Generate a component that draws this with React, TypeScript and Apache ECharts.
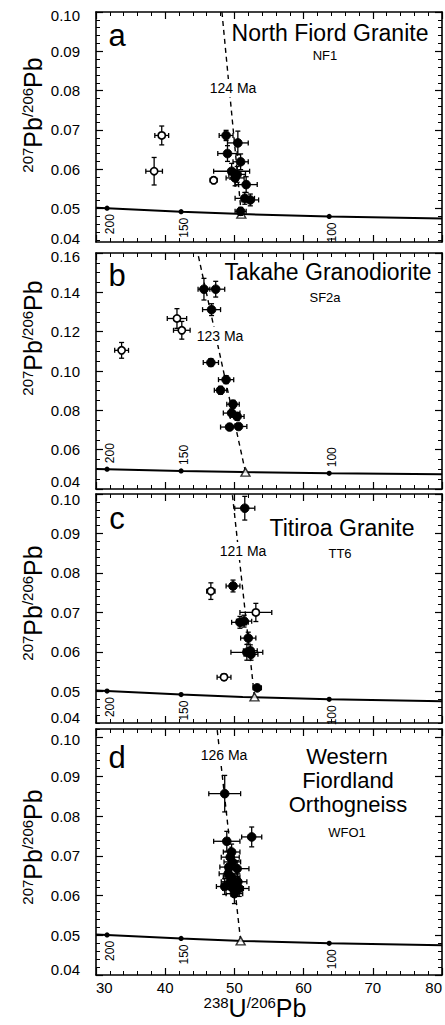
import React, { useEffect, useRef } from 'react';
import * as echarts from 'echarts';

// ---------- data ----------
// Concordia curve (238U/206Pb, 207Pb/206Pb)
const concordiaX = [30, 31.6, 42.3, 51.2, 63.7, 80];
const concordiaY = [0.0502, 0.0501, 0.0492, 0.0486, 0.048, 0.0475];
// Age marks on concordia (Ma)
const ageMarkX = [31.6, 42.3, 63.7];
const ageMarkY = [0.0501, 0.0492, 0.048];
const ageMarkLabels = ['200', '150', '100'];

// [x, y, xErr, yErr]
const nf1Filled = [
  [48.8, 0.0686, 1.0, 0.0013],
  [50.5, 0.0667, 1.5, 0.003],
  [49.0, 0.064, 1.4, 0.002],
  [50.9, 0.0619, 1.1, 0.002],
  [49.6, 0.0595, 2.6, 0.002],
  [50.4, 0.0587, 1.2, 0.002],
  [50.1, 0.0578, 1.3, 0.002],
  [51.7, 0.0561, 1.6, 0.002],
  [51.5, 0.0526, 1.4, 0.0015],
  [52.3, 0.0522, 1.2, 0.0015],
  [50.9, 0.0493, 0.8, 0.001],
];
const nf1Open = [
  [39.5, 0.0686, 1.0, 0.0024],
  [38.4, 0.0595, 1.2, 0.0035],
  [47.0, 0.0572, 0.5, 0.0008],
];
const nf1Discordia = [[51.0, 0.0486], [48.2, 0.1]];

const sf2aFilled = [
  [45.6, 0.1416, 0.85, 0.0055],
  [47.3, 0.1416, 1.3, 0.004],
  [46.7, 0.1312, 1.3, 0.003],
  [46.6, 0.1043, 1.1, 0.002],
  [48.8, 0.0956, 1.1, 0.002],
  [48.0, 0.0902, 0.9, 0.002],
  [49.8, 0.0831, 0.9, 0.002],
  [49.6, 0.0786, 1.2, 0.002],
  [50.4, 0.0769, 1.0, 0.002],
  [49.3, 0.0715, 1.3, 0.0015],
  [50.6, 0.0718, 1.2, 0.0015],
];
const sf2aOpen = [
  [33.7, 0.1105, 1.0, 0.004],
  [41.7, 0.1267, 1.4, 0.005],
  [42.4, 0.1207, 1.2, 0.0045],
];
const sf2aDiscordia = [[51.6, 0.0486], [44.7, 0.16]];

const tt6Filled = [
  [51.5, 0.0964, 1.45, 0.003],
  [49.8, 0.0767, 1.0, 0.0015],
  [50.8, 0.0675, 1.2, 0.0015],
  [51.4, 0.0678, 1.1, 0.0015],
  [52.0, 0.0635, 1.1, 0.0015],
  [51.8, 0.0599, 2.3, 0.002],
  [52.3, 0.0603, 1.0, 0.0015],
  [52.4, 0.0594, 1.0, 0.0015],
  [53.3, 0.0509, 0.6, 0.0006],
];
const tt6Open = [
  [53.1, 0.07, 2.3, 0.0023],
  [46.6, 0.0754, 0.6, 0.0021],
  [48.5, 0.0536, 1.0, 0.0008],
];
const tt6Discordia = [[52.9, 0.0486], [49.7, 0.1]];

const wfo1Filled = [
  [48.6, 0.0857, 2.3, 0.0046],
  [52.5, 0.0748, 1.45, 0.0025],
  [48.9, 0.0737, 1.9, 0.0025],
  [49.6, 0.071, 1.2, 0.002],
  [49.4, 0.0697, 1.3, 0.002],
  [49.7, 0.0685, 1.2, 0.002],
  [49.2, 0.0672, 1.3, 0.002],
  [50.4, 0.0668, 1.7, 0.002],
  [49.1, 0.0655, 1.3, 0.002],
  [49.6, 0.0647, 1.2, 0.002],
  [49.4, 0.0635, 1.3, 0.002],
  [50.5, 0.0635, 1.3, 0.002],
  [48.6, 0.0623, 1.2, 0.002],
  [49.8, 0.0618, 1.5, 0.002],
  [50.7, 0.0618, 1.4, 0.002],
  [50.0, 0.0605, 1.2, 0.0025],
];
const wfo1Open: number[][] = [];
const wfo1Discordia = [[50.9, 0.0486], [47.5, 0.102]];

// axis tick values
const xTickLabels = [30, 40, 50, 60, 70, 80];
const yTicksSmall = [0.04, 0.05, 0.06, 0.07, 0.08, 0.09, 0.1];
const yTicksLarge = [0.04, 0.06, 0.08, 0.1, 0.12, 0.14, 0.16];
// where the end labels sit (the original insets the first/last label)
const nf1LabelPos = [0.0423, 0.05, 0.06, 0.07, 0.08, 0.09, 0.099];
const sf2aLabelPos = [0.0437, 0.06, 0.08, 0.1, 0.12, 0.14, 0.1581];
const tt6LabelPos = [0.0433, 0.05, 0.06, 0.07, 0.08, 0.09, 0.0986];
const wfo1LabelPos = [0.0415, 0.05, 0.06, 0.07, 0.08, 0.09, 0.0994];

// ---------- layout ----------
const FONT = '"Liberation Sans", Arial, Helvetica, sans-serif';
const GRID_LEFT = 96;
const GRID_W = 346;

const panels = [
  { top: 12, height: 230, min: 0.0415, max: 0.1, majors: yTicksSmall, labelPos: nf1LabelPos, minorStep: 0.002, filled: nf1Filled, open: nf1Open, disc: nf1Discordia, ageBelow: true },
  { top: 253, height: 236, min: 0.04, max: 0.16, majors: yTicksLarge, labelPos: sf2aLabelPos, minorStep: 0.005, filled: sf2aFilled, open: sf2aOpen, disc: sf2aDiscordia, ageBelow: false },
  { top: 494, height: 229, min: 0.042, max: 0.1, majors: yTicksSmall, labelPos: tt6LabelPos, minorStep: 0.002, filled: tt6Filled, open: tt6Open, disc: tt6Discordia, ageBelow: true },
  { top: 729, height: 246, min: 0.04, max: 0.102, majors: yTicksSmall, labelPos: wfo1LabelPos, minorStep: 0.002, filled: wfo1Filled, open: wfo1Open, disc: wfo1Discordia, ageBelow: true },
];

function errorRenderer(open: boolean) {
  return (params: any, api: any) => {
    const x = api.value(0), y = api.value(1), ex = api.value(2), ey = api.value(3);
    const c = api.coord([x, y]);
    const l = api.coord([x - ex, y]);
    const r = api.coord([x + ex, y]);
    const t = api.coord([x, y + ey]);
    const b = api.coord([x, y - ey]);
    const cap = 2.5;
    const ls = { stroke: '#000', lineWidth: 1.3 };
    const line = (x1: number, y1: number, x2: number, y2: number) => ({ type: 'line', shape: { x1, y1, x2, y2 }, style: ls });
    return {
      type: 'group',
      children: [
        line(l[0], l[1], r[0], r[1]),
        line(l[0], l[1] - cap, l[0], l[1] + cap),
        line(r[0], r[1] - cap, r[0], r[1] + cap),
        line(t[0], t[1], b[0], b[1]),
        line(t[0] - cap, t[1], t[0] + cap, t[1]),
        line(b[0] - cap, b[1], b[0] + cap, b[1]),
        { type: 'circle', shape: { cx: c[0], cy: c[1], r: open ? 3.6 : 4.3 }, style: { fill: open ? '#fff' : '#000', stroke: '#000', lineWidth: open ? 1.7 : 1 } },
      ],
    };
  };
}

function ageRenderer(below: boolean) {
  return (params: any, api: any) => {
    const c = api.coord([api.value(0), api.value(1)]);
    return {
      type: 'group',
      children: [
        { type: 'circle', shape: { cx: c[0], cy: c[1], r: 2.6 }, style: { fill: '#000' } },
        {
          type: 'text',
          x: c[0] + 3,
          y: below ? c[1] + 6 : c[1] - 6,
          rotation: Math.PI / 2,
          style: {
            text: ageMarkLabels[params.dataIndex],
            font: `12px ${FONT}`,
            fill: '#000',
            align: below ? 'right' : 'left',
            verticalAlign: 'middle',
          },
        },
      ],
    };
  };
}

function minorsOf(min: number, max: number, step: number, majors: number[]) {
  const out: number[] = [];
  const start = Math.ceil(min / step - 1e-6) * step;
  for (let i = 0; i < 200; i++) {
    const v = +(start + i * step).toFixed(4);
    if (v > max + 1e-9) break;
    if (!majors.some((m) => Math.abs(m - v) < 1e-6)) out.push(v);
  }
  return out;
}

function buildOption() {
  const grid: any[] = [];
  const xAxis: any[] = [];
  const yAxis: any[] = [];
  const series: any[] = [];
  const axisLine = { show: true, onZero: false, lineStyle: { color: '#000', width: 1.6 } };

  panels.forEach((p, i) => {
    grid.push({ left: GRID_LEFT, top: p.top, width: GRID_W, height: p.height, containLabel: false });
    ['bottom', 'top'].forEach((pos) => {
      xAxis.push({
        gridIndex: i, type: 'value', min: xTickLabels[0], max: xTickLabels[xTickLabels.length - 1], interval: 10, position: pos,
        axisLine,
        axisTick: { show: true, inside: true, length: 7, lineStyle: { color: '#000', width: 1.2 } },
        minorTick: { show: true, splitNumber: 5, length: 4, lineStyle: { color: '#000', width: 1 } },
        splitLine: { show: false }, minorSplitLine: { show: false },
        axisLabel: {
          show: pos === 'bottom' && i === 3, margin: 5, color: '#000', fontSize: 15, fontFamily: FONT,
          alignMinLabel: 'left', alignMaxLabel: 'right',
        },
      });
    });
    const majorsIn = p.majors.filter((v) => v >= p.min - 1e-9 && v <= p.max + 1e-9);
    const minors = minorsOf(p.min, p.max, p.minorStep, p.majors);
    const nearestMajor = (v: number) => {
      let best = p.majors[0];
      p.majors.forEach((m) => { if (Math.abs(m - v) < Math.abs(best - v)) best = m; });
      return best.toFixed(2);
    };
    ['left', 'right'].forEach((pos) => {
      yAxis.push({
        gridIndex: i, type: 'value', min: p.min, max: p.max, position: pos,
        axisLine,
        axisTick: { show: true, inside: true, length: 7, customValues: majorsIn, lineStyle: { color: '#000', width: 1.2 } },
        splitLine: { show: false },
        axisLabel: {
          show: pos === 'left', customValues: p.labelPos, margin: 16, color: '#000', fontSize: 15, fontFamily: FONT,
          formatter: (v: number) => nearestMajor(v),
        },
      });
      yAxis.push({
        gridIndex: i, type: 'value', min: p.min, max: p.max, position: pos,
        axisLine: { show: false },
        axisTick: { show: true, inside: true, length: 4, customValues: minors, lineStyle: { color: '#000', width: 1 } },
        splitLine: { show: false },
        axisLabel: { show: false },
      });
    });
    const xi = i * 2;
    const yi = i * 4;
    series.push({
      type: 'line', xAxisIndex: xi, yAxisIndex: yi, symbol: 'none', silent: true,
      data: concordiaX.map((x, k) => [x, concordiaY[k]]),
      lineStyle: { color: '#000', width: 2 }, z: 2,
    });
    series.push({
      type: 'line', xAxisIndex: xi, yAxisIndex: yi, symbol: 'none', silent: true,
      data: p.disc, lineStyle: { color: '#000', width: 1.4, type: [5, 4] }, z: 2,
    });
    series.push({
      type: 'custom', xAxisIndex: xi, yAxisIndex: yi, renderItem: ageRenderer(p.ageBelow),
      data: ageMarkX.map((x, k) => [x, ageMarkY[k]]), z: 3, silent: true,
    });
    series.push({
      type: 'scatter', xAxisIndex: xi, yAxisIndex: yi, symbol: 'triangle', symbolSize: [9, 8],
      data: [p.disc[0]], itemStyle: { color: '#fff', borderColor: '#000', borderWidth: 1.4 }, z: 4, silent: true,
    });
    series.push({
      type: 'custom', xAxisIndex: xi, yAxisIndex: yi, renderItem: errorRenderer(true),
      data: p.open, encode: { x: 0, y: 1 }, z: 5, silent: true,
    });
    series.push({
      type: 'custom', xAxisIndex: xi, yAxisIndex: yi, renderItem: errorRenderer(false),
      data: p.filled, encode: { x: 0, y: 1 }, z: 6, silent: true,
    });
  });

  const txt = (text: string, x: number, y: number, size: number, extra: any = {}) => ({
    type: 'text', x, y, z: 100,
    style: { text, font: `${size}px ${FONT}`, fill: '#000', align: 'center', verticalAlign: 'middle', ...extra },
  });
  const ageTxt = (text: string, x: number, y: number) =>
    txt(text, x, y, 14, { backgroundColor: '#fff', padding: [2, 2] });
  const rich = {
    s: { fontSize: 15, fontFamily: FONT, fill: '#000', verticalAlign: 'top', lineHeight: 15 },
    b: { fontSize: 25, fontFamily: FONT, fill: '#000', lineHeight: 26 },
  };
  const yTitle = (y: number) => ({
    type: 'text', x: 33, y, rotation: Math.PI / 2, z: 100,
    style: { text: '{s|207}{b|Pb}{s|/206}{b|Pb}', rich, align: 'center', verticalAlign: 'middle' },
  });

  const graphic = [
    txt('a', 117, 35, 31), txt('b', 117, 275, 31), txt('c', 117, 518, 31), txt('d', 117, 757, 31),
    txt('North Fiord Granite', 330, 33, 23),
    txt('NF1', 325, 55, 13),
    ageTxt('124 Ma', 233, 88),
    txt('Takahe Granodiorite', 328, 272, 23),
    txt('SF2a', 325, 297, 13),
    ageTxt('123 Ma', 220, 336),
    txt('Titiroa Granite', 342, 528, 23),
    txt('TT6', 340, 553, 13),
    ageTxt('121 Ma', 243, 551),
    txt('Western', 347, 756, 22),
    txt('Fiordland', 348, 780, 22),
    txt('Orthogneiss', 348, 804, 22),
    txt('WFO1', 347, 832, 13),
    ageTxt('126 Ma', 224, 755),
    yTitle(115), yTitle(338), yTitle(603), yTitle(847),
    {
      type: 'text', x: 255, y: 1008, z: 100,
      style: { text: '{s|238}{b|U}{s|/206}{b|Pb}', rich, align: 'center', verticalAlign: 'middle' },
    },
  ];

  return { animation: false, backgroundColor: '#fff', grid, xAxis, yAxis, series, graphic };
}

export default function App() {
  const ref = useRef<HTMLDivElement>(null);
  useEffect(() => {
    if (!ref.current) return;
    const chart = echarts.init(ref.current, null, { renderer: 'svg' });
    chart.setOption(buildOption() as any);
    return () => chart.dispose();
  }, []);
  return (
    <div
      ref={ref}
      style={{ position: 'absolute', left: 0, top: 0, width: 445, height: 1025, background: '#fff' }}
    />
  );
}
